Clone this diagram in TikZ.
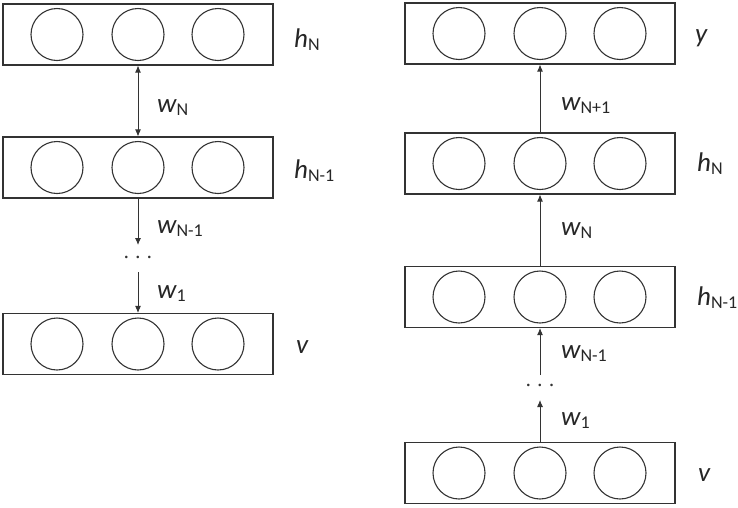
\documentclass[tikz,border=0pt]{standalone}
\usepackage{fontspec}
\setmainfont{Carlito}
\usetikzlibrary{arrows.meta}
\tikzset{
  layerbox/.style={draw=black!80, line width=1.1pt, minimum width=270pt, minimum height=61pt, inner sep=0pt},
  unit/.style={draw=black!80, line width=1.1pt, circle, minimum size=52pt, inner sep=0pt},
  lab/.style={anchor=base west, inner sep=0pt, text=black!85, font=\fontsize{27}{29}\selectfont\itshape},
  conn/.style={draw=black!80, line width=0.9pt, -{Latex[length=7pt,width=6pt]}},
  dots/.style={inner sep=0pt, text=black!80, font=\fontsize{18}{20}\selectfont}
}
\newcommand{\lsub}[1]{\raisebox{-0.12em}{\upshape\fontsize{18}{20}\selectfont #1}}
\begin{document}
\begin{tikzpicture}[x=1pt,y=-1pt]
\useasboundingbox (0,0) rectangle (738,507);
% left column
\node[layerbox] (L1) at (138,34.5) {};
\node[layerbox] (L2) at (138,167.5) {};
\node[layerbox] (L3) at (138,344) {};
\foreach \b in {L1,L2,L3}{
  \node[unit] (\b a) at ([xshift=-81pt]\b.center) {};
  \node[unit] (\b b) at (\b.center) {};
  \node[unit] (\b c) at ([xshift=80pt]\b.center) {};
}
\node[lab] (lh1) at (294,47) {h\lsub{N}};
\node[lab] (lh2) at (294,178) {h\lsub{N-1}};
\node[lab] (lv) at (296,353) {v};
\draw[conn,{Latex[length=7pt,width=6pt]}-{Latex[length=7pt,width=6pt]}] (L1.south) -- (L2.north);
\coordinate (la) at (138,245);
\coordinate (lb) at (138,272);
\draw[conn] (L2.south) -- (la);
\draw[conn] (lb) -- (L3.north);
\node[dots] (ld) at (138,259) {\textperiodcentered\hspace{7pt}\textperiodcentered\hspace{7pt}\textperiodcentered};
\node[lab] (lw1) at (157,112) {w\lsub{N}};
\node[lab] (lw2) at (157,233) {w\lsub{N-1}};
\node[lab] (lw3) at (157,298) {w\lsub{1}};
% right column
\node[layerbox] (R1) at (540,33.5) {};
\node[layerbox] (R2) at (540,163.5) {};
\node[layerbox] (R3) at (540,297) {};
\node[layerbox] (R4) at (540,473) {};
\foreach \b in {R1,R2,R3,R4}{
  \node[unit] (\b a) at ([xshift=-81pt]\b.center) {};
  \node[unit] (\b b) at (\b.center) {};
  \node[unit] (\b c) at ([xshift=80pt]\b.center) {};
}
\node[lab] (ry) at (695,42) {y};
\node[lab] (rh1) at (697,171) {h\lsub{N}};
\node[lab] (rh2) at (697,305) {h\lsub{N-1}};
\node[lab] (rv) at (698,481) {v};
\draw[conn] (R2.north) -- (R1.south);
\draw[conn] (R3.north) -- (R2.south);
\coordinate (ra) at (540,375);
\coordinate (rb) at (540,400);
\draw[conn] (ra) -- (R3.south);
\draw[conn] (R4.north) -- (rb);
\node[dots] (rd) at (540,387) {\textperiodcentered\hspace{7pt}\textperiodcentered\hspace{7pt}\textperiodcentered};
\node[lab] (rw1) at (561,110) {w\lsub{N+1}};
\node[lab] (rw2) at (561,235) {w\lsub{N}};
\node[lab] (rw3) at (561,358) {w\lsub{N-1}};
\node[lab] (rw4) at (561,425) {w\lsub{1}};
\end{tikzpicture}
\end{document}
